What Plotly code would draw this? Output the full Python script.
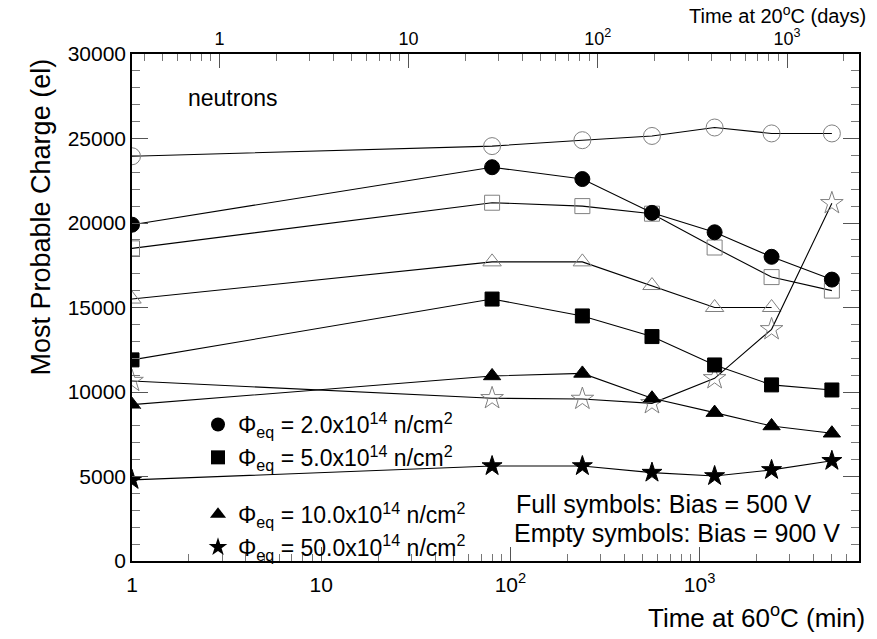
import numpy as np
import plotly.graph_objects as go

# Annealing time at 60C (min)
t7 = [1, 80, 240, 560, 1200, 2400, 5000]
t6 = [1, 80, 240, 560, 1200, 2400]

# Most probable charge (el)
full_2e14 = [19900, 23300, 22600, 20600, 19450, 18000, 16650]
full_5e14 = [11900, 15500, 14500, 13280, 11600, 10420, 10120]
full_10e14 = [9250, 10950, 11100, 9630, 8780, 7990, 7560]
full_50e14 = [4800, 5620, 5620, 5230, 5030, 5390, 5930]
empty_2e14 = [23950, 24550, 24900, 25150, 25650, 25300, 25300]
empty_5e14 = [18500, 21200, 21000, 20550, 18550, 16800, 16000]
empty_10e14 = [15500, 17700, 17700, 16300, 15000, 15000]
empty_50e14 = [10650, 9630, 9590, 9330, 10810, 13710, 21170]

legend_labels = [
    "Φ<sub>eq</sub> = 2.0x10<sup>14</sup> n/cm<sup>2</sup>",
    "Φ<sub>eq</sub> = 5.0x10<sup>14</sup> n/cm<sup>2</sup>",
    "Φ<sub>eq</sub> = 10.0x10<sup>14</sup> n/cm<sup>2</sup>",
    "Φ<sub>eq</sub> = 50.0x10<sup>14</sup> n/cm<sup>2</sup>",
]

x_major = [1, 10, 100, 1000]
x_major_text = ["1", "10", "10<sup>2</sup>", "10<sup>3</sup>"]
top_major = [1, 10, 100, 1000]
top_major_text = ["1", "10", "10<sup>2</sup>", "10<sup>3</sup>"]
days_per_min60 = 1 / 2.897  # 1 day at 20C == 2.897 min at 60C

FONT = "Liberation Sans, Arial, sans-serif"
GRAY = "#808080"

fig = go.Figure()

series = [
    (t7, empty_2e14, "circle-open", 17, GRAY),
    (t7, empty_5e14, "square-open", 15, GRAY),
    (t6, empty_10e14, "triangle-up-open", 16, GRAY),
    (t7, empty_50e14, "star-open", 17, GRAY),
    (t7, full_2e14, "circle", 15, "black"),
    (t7, full_5e14, "square", 14, "black"),
    (t7, full_10e14, "triangle-up", 15, "black"),
    (t7, full_50e14, "star", 15, "black"),
]
for x, y, sym, sz, col in series:
    fig.add_trace(go.Scatter(
        x=x, y=y, mode="lines+markers", showlegend=False,
        line=dict(color="black", width=1.1),
        marker=dict(symbol=sym, size=sz, color=col,
                    line=dict(width=1, color=col)),
    ))

# legend entries
leg_syms = ["circle", "square", "triangle-up", "star"]
groups = ["a", "a", "b", "b"]
for lab, sym, g in zip(legend_labels, leg_syms, groups):
    fig.add_trace(go.Scatter(
        x=[None], y=[None], mode="markers", name=lab, legendgroup=g,
        marker=dict(symbol=sym, size=14, color="black"),
    ))

# dummy trace for top axis
fig.add_trace(go.Scatter(x=[None], y=[None], xaxis="x2", showlegend=False))

minor_bottom = [m * d for d in [1, 10, 100, 1000] for m in range(2, 10) if m * d < 7000]
minor_top = [m * d for d in [0.1, 1, 10, 100, 1000] for m in range(2, 10) if 0.34 < m * d < 2500]

xr = [0, np.log10(6955)]
axis_font = dict(family=FONT, size=21, color="black")

fig.update_layout(
    width=877, height=639,
    margin=dict(l=132, r=18, t=54, b=78),
    paper_bgcolor="white", plot_bgcolor="white",
    font=dict(family=FONT, color="black"),
    xaxis=dict(
        type="log", range=xr, showgrid=False, zeroline=False,
        showline=True, linecolor="black", linewidth=1.5,
        ticks="inside", ticklen=14, tickwidth=1, tickcolor="#555",
        tickmode="array", tickvals=x_major, ticktext=x_major_text,
        tickfont=axis_font, ticklabelstandoff=4,
        minor=dict(tickmode="array", tickvals=minor_bottom, ticks="inside",
                   ticklen=7, tickwidth=1, tickcolor="#777", showgrid=False),
    ),
    xaxis2=dict(
        type="log", overlaying="x", side="top", anchor="y",
        range=[xr[0] + np.log10(days_per_min60), xr[1] + np.log10(days_per_min60)],
        showgrid=False, zeroline=False,
        showline=True, linecolor="black", linewidth=1.5,
        ticks="inside", ticklen=14, tickwidth=1, tickcolor="#555",
        tickmode="array", tickvals=top_major, ticktext=top_major_text,
        tickfont=dict(family=FONT, size=18, color="black"),
        minor=dict(tickmode="array", tickvals=minor_top, ticks="inside",
                   ticklen=7, tickwidth=1, tickcolor="#777", showgrid=False),
    ),
    yaxis=dict(
        range=[0, 30000], showgrid=False, zeroline=False,
        showline=True, linecolor="black", linewidth=1.5, mirror="ticks",
        ticks="inside", ticklen=16, tickwidth=1, tickcolor="#555",
        tickmode="array", tickvals=list(range(0, 30001, 5000)), tickformat="d",
        tickfont=axis_font,
        minor=dict(dtick=1000, ticks="inside", ticklen=8, tickwidth=1,
                   tickcolor="#777", showgrid=False),
    ),
    legend=dict(
        x=(198 - 132) / 727, y=(561 - 403) / 507, xanchor="left", yanchor="top",
        bgcolor="rgba(0,0,0,0)", font=dict(family=FONT, size=23, color="black"),
        tracegroupgap=24, itemwidth=30,
    ),
    showlegend=True,
)

txt = dict(family=FONT, size=23, color="black")
txt2 = dict(family=FONT, size=25, color="black")
fig.add_annotation(text="neutrons", xref="paper", yref="paper",
                   x=(186 - 132) / 727, y=(561 - 98) / 507, xanchor="left", yanchor="middle",
                   showarrow=False, font=txt)
fig.add_annotation(text="Full symbols: Bias = 500 V", xref="paper", yref="paper",
                   x=(514 - 132) / 727, y=(561 - 504) / 507, xanchor="left", yanchor="middle",
                   showarrow=False, font=txt2)
fig.add_annotation(text="Empty symbols: Bias = 900 V", xref="paper", yref="paper",
                   x=(512 - 132) / 727, y=(561 - 533) / 507, xanchor="left", yanchor="middle",
                   showarrow=False, font=txt2)
fig.add_annotation(text="Most Probable Charge (el)", xref="paper", yref="paper",
                   x=(40 - 132) / 727, y=(561 - 56) / 507, xanchor="center", yanchor="top",
                   textangle=-90, showarrow=False, font=dict(family=FONT, size=27, color="black"))
fig.add_annotation(text="Time at 60<sup>o</sup>C (min)", xref="paper", yref="paper",
                   x=(867 - 132) / 727, y=-(616 - 561) / 507, xanchor="right", yanchor="middle",
                   showarrow=False, font=dict(family=FONT, size=26, color="black"))
fig.add_annotation(text="Time at 20<sup>o</sup>C (days)", xref="paper", yref="paper",
                   x=(868 - 132) / 727, y=1 + (54 - 14) / 507, xanchor="right", yanchor="middle",
                   showarrow=False, font=dict(family=FONT, size=20, color="black"))

fig.write_html("out.html")
